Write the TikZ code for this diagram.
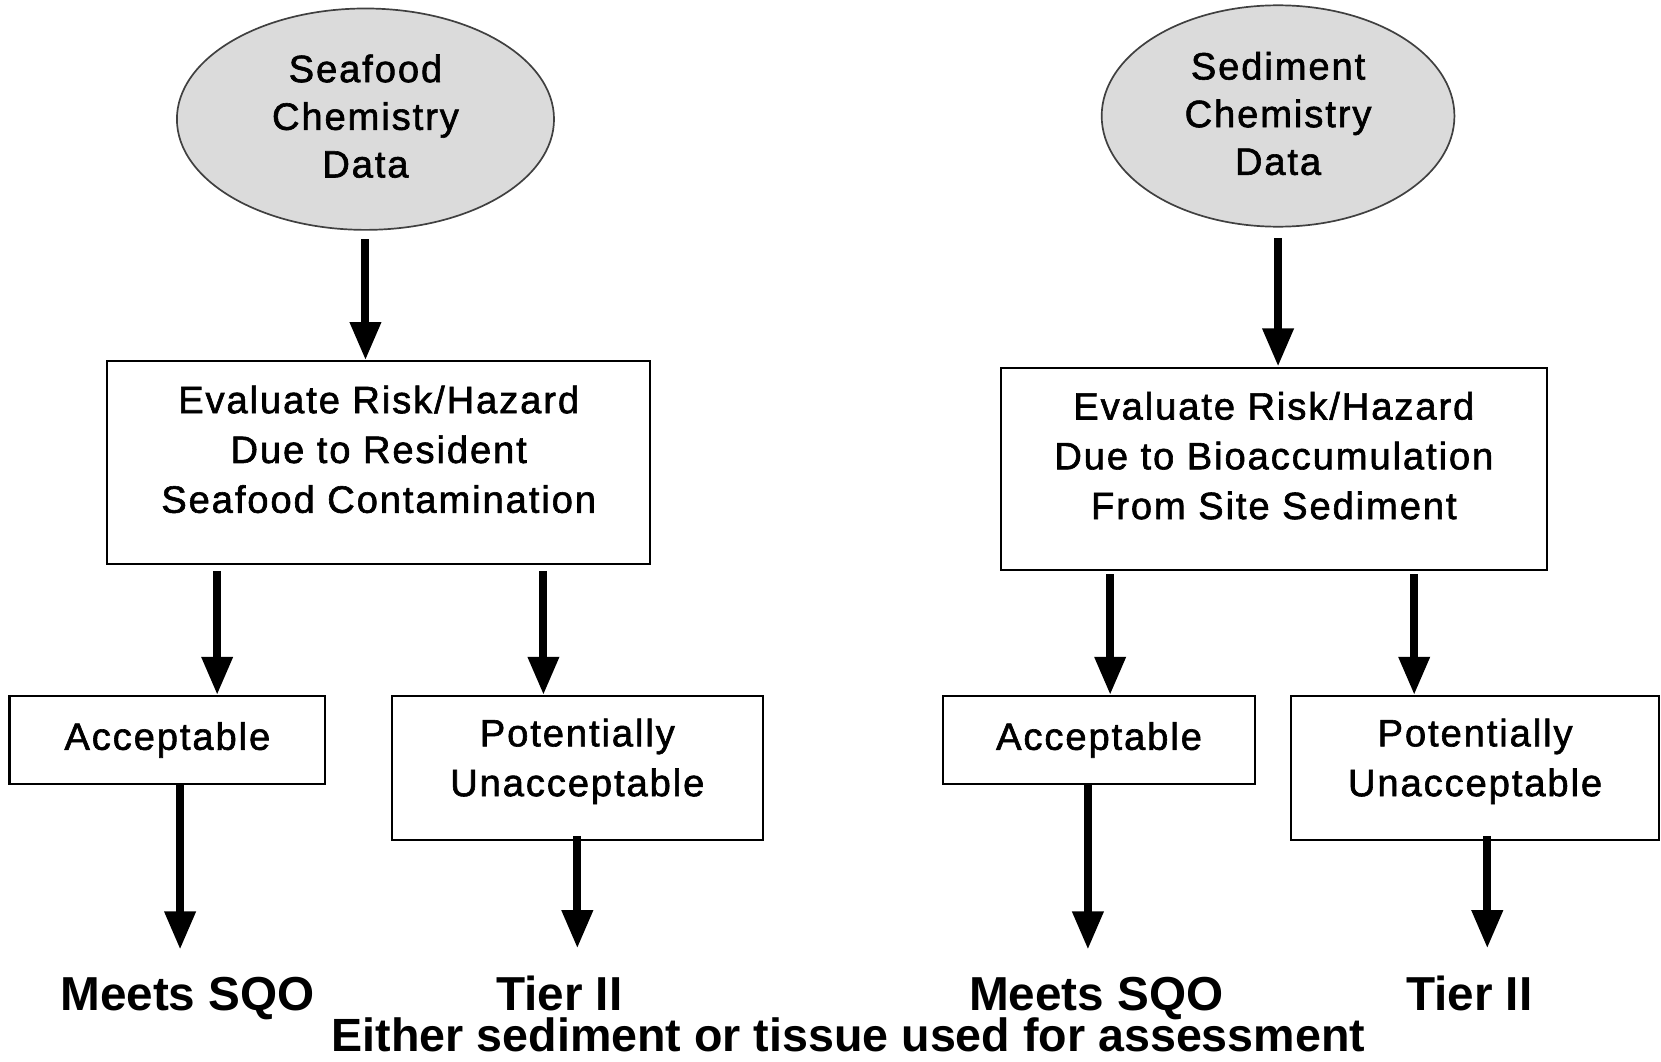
\documentclass[tikz,border=0pt]{standalone}
\usepackage{fontspec}
\setmainfont{Liberation Sans}
\newfontfamily\boxfont[LetterSpace=5,FakeBold=1.6]{Liberation Sans}
\usetikzlibrary{arrows.meta,shapes.geometric}
\begin{document}
\begin{tikzpicture}[x=1pt,y=-1pt,
  every node/.style={inner sep=0pt},
  srcnode/.style={ellipse,draw=black!75,line width=1.6pt,fill=black!14,align=center,
    font=\boxfont\fontsize{36}{45}\selectfont},
  boxnode/.style={rectangle,draw=black,line width=2pt,align=center,
    font=\boxfont\fontsize{36}{47}\selectfont},
  outnode/.style={anchor=base,font=\bfseries\fontsize{45}{50}\selectfont},
  notenode/.style={anchor=base,font=\bfseries\fontsize{44}{50}\selectfont},
  arr/.style={line width=7.5pt,-{Triangle[length=36pt,width=28pt]}}]
\useasboundingbox (0,0) rectangle (1568,1002);
% source ellipses
\node[srcnode,minimum width=356pt,minimum height=209pt] (e1) at (345,112.5)
  {Seafood\\Chemistry\\Data\rule[-6pt]{0pt}{0pt}};
\node[srcnode,minimum width=333pt,minimum height=209pt] (e2) at (1206.5,109.5)
  {Sediment\\Chemistry\\Data\rule[-5pt]{0pt}{0pt}};
% evaluation boxes
\node[boxnode,minimum width=513pt,minimum height=191pt] (b1) at (357.5,436.5)
  {Evaluate Risk/Hazard\\Due to Resident\\Seafood Contamination\rule[-25pt]{0pt}{0pt}};
\node[boxnode,minimum width=515pt,minimum height=191pt] (b2) at (1202.5,442.5)
  {Evaluate Risk/Hazard\\Due to Bioaccumulation\\From Site Sediment\rule[-25pt]{0pt}{0pt}};
% result boxes
\node[boxnode,minimum width=298pt,minimum height=83pt] (acc1) at (158,698.5) {Acceptable};
\node[boxnode,minimum width=350pt,minimum height=136pt] (pu1) at (545,725)
  {Potentially\\Unacceptable\rule[-20pt]{0pt}{0pt}};
\node[boxnode,minimum width=295pt,minimum height=83pt] (acc2) at (1037.5,698.5) {Acceptable};
\node[boxnode,minimum width=347pt,minimum height=136pt] (pu2) at (1392.5,725)
  {Potentially\\Unacceptable\rule[-20pt]{0pt}{0pt}};
% outcomes
\node[outnode] (m1) at (177,954) {Meets SQO};
\node[outnode] (t1) at (528,954) {Tier II};
\node[outnode] (m2) at (1035,954) {Meets SQO};
\node[outnode] (t2) at (1387,954) {Tier II};
\node[notenode] (note) at (801,993) {Either sediment or tissue used for assessment};
% arrow columns
\coordinate (xa) at (205,0);
\coordinate (xb) at (513,0);
\coordinate (xc) at (170,0);
\coordinate (xd) at (545,0);
\coordinate (xe) at (1048,0);
\coordinate (xf) at (1335,0);
\coordinate (xg) at (1027,0);
\coordinate (xh) at (1404,0);
% connectors
\draw[arr,shorten <=8pt] (e1.south) -- (e1.south |- b1.north);
\draw[arr,shorten <=10pt] (e2.south) -- (e2.south |- b2.north);
\draw[arr,shorten <=6pt] (b1.south -| xa) -- (acc1.north -| xa);
\draw[arr,shorten <=6pt] (b1.south -| xb) -- (pu1.north -| xb);
\draw[arr,shorten <=3pt] (b2.south -| xe) -- (acc2.north -| xe);
\draw[arr,shorten <=3pt] (b2.south -| xf) -- (pu2.north -| xf);
\draw[arr,shorten >=26pt] (acc1.south -| xc) -- (m1.north -| xc);
\draw[arr,shorten <=-5pt,shorten >=26pt] (pu1.south -| xd) -- (t1.north -| xd);
\draw[arr,shorten >=26pt] (acc2.south -| xg) -- (m2.north -| xg);
\draw[arr,shorten <=-5pt,shorten >=26pt] (pu2.south -| xh) -- (t2.north -| xh);
\end{tikzpicture}
\end{document}
